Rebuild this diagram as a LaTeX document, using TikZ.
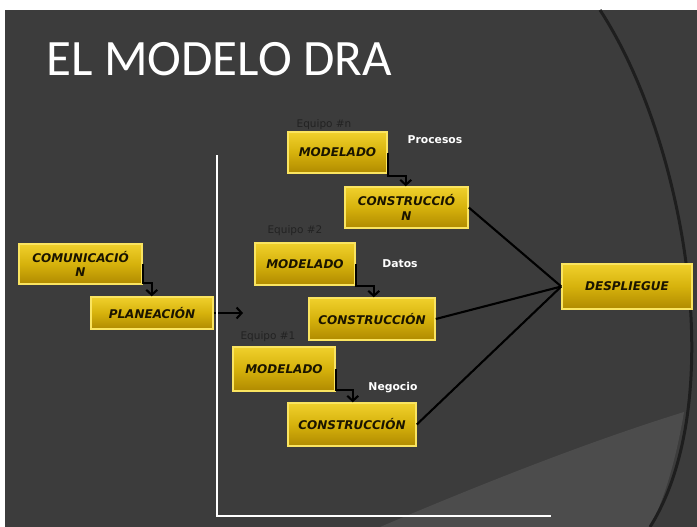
\documentclass[tikz,border=0pt]{standalone}
\usepackage{fontspec}
\setmainfont{DejaVu Sans}
\newfontfamily\titlefont{Carlito}
\definecolor{dra_fondo}{RGB}{60, 60, 60}
\definecolor{dra_claro}{RGB}{76, 76, 76}
\definecolor{dra_arco}{RGB}{30, 30, 30}
\definecolor{dra_oro_alto}{RGB}{240, 208, 44}
\definecolor{dra_oro}{RGB}{214, 178, 12}
\definecolor{dra_oro_bajo}{RGB}{176, 138, 0}
\definecolor{dra_borde}{RGB}{250, 228, 96}
\definecolor{dra_texto}{RGB}{26, 20, 0}
\definecolor{dra_equipo}{RGB}{34, 34, 34}
\usepackage{tikz}
\usetikzlibrary{arrows.meta, calc}

\begin{document}
\begin{tikzpicture}[x=1pt, y=-1pt,
            caja/.style={draw=dra_borde, line width=1.5pt, align=center,
                         top color=dra_oro_alto, bottom color=dra_oro_bajo,
                         middle color=dra_oro, inner sep=0pt, text=dra_texto,
                         font=\fontsize{12}{14.5}\selectfont\bfseries\itshape},
            equipo/.style={text=dra_equipo, font=\fontsize{10.5}{12}\selectfont},
            capa/.style={text=white, font=\fontsize{10.8}{12}\selectfont\bfseries},
            flecha/.style={draw=black, line width=2.1pt,
                           -{Straight Barb[length=5pt, width=11pt]}},
            linea/.style={draw=black, line width=2.1pt}]
            \useasboundingbox (0,0) rectangle (697,527);
            % fondo de la diapositiva
            \fill[white] (0,0) rectangle (697,527);
            \fill[dra_fondo] (5,10) rectangle (697,527);
            \begin{scope}
              \clip (5,10) rectangle (697,527);
              \fill[dra_claro] (380,527) .. controls (500,476) and (600,438) .. (684,412)
                .. controls (676,460) and (664,500) .. (650,527) -- cycle;
              \draw[dra_arco, line width=3pt] (600,10) .. controls (685,140) and (730,400) .. (650,527);
            \end{scope}
            \node[anchor=base west, inner sep=0pt, text=white,
                  font=\titlefont\fontsize{51}{51}\selectfont] (titulo) at (46,76) {EL MODELO DRA};

            % cajas
            \node[caja, minimum width=123, minimum height=40] (comunicacion) at (80.5,264)
              {COMUNICACIÓ\\N};
            \node[caja, minimum width=122, minimum height=32] (planeacion) at (152,313)
              {PLANEACIÓN};
            \node[caja, minimum width=99, minimum height=41] (modeladoN) at (337.5,152.5)
              {MODELADO};
            \node[caja, minimum width=123, minimum height=41] (construccionN) at (406.5,207.5)
              {CONSTRUCCIÓ\\N};
            \node[caja, minimum width=100, minimum height=42] (modelado2) at (305,264)
              {MODELADO};
            \node[caja, minimum width=126, minimum height=42] (construccion2) at (372,319)
              {CONSTRUCCIÓN};
            \node[caja, minimum width=102, minimum height=44] (modelado1) at (284,369)
              {MODELADO};
            \node[caja, minimum width=128, minimum height=43] (construccion1) at (352,424.5)
              {CONSTRUCCIÓN};
            \node[caja, minimum width=130, minimum height=45] (despliegue) at (627,286.5)
              {DESPLIEGUE};

            % textos
            \node[equipo] (equipoN) at (324,125) {Equipo \#n};
            \node[equipo] (equipo2) at (295,231) {Equipo \#2};
            \node[equipo] (equipo1) at (268,337) {Equipo \#1};
            \node[capa] (procesos) at (435,140) {Procesos};
            \node[capa] (datos) at (400,264) {Datos};
            \node[capa] (negocio) at (393,388) {Negocio};

            % flechas en codo
            \coordinate (codoC) at ($(comunicacion.south east)+(9,-2)$);
            \coordinate (codoN) at ($(modeladoN.south east)+(18,2)$);
            \coordinate (codo2) at ($(modelado2.south east)+(18,0)$);
            \coordinate (codo1) at ($(modelado1.south east)+(17,-2)$);
            \draw[flecha] (comunicacion.east) |- (codoC) -- (codoC |- planeacion.north);
            \draw[flecha] (modeladoN.east) |- (codoN) -- (codoN |- construccionN.north);
            \draw[flecha] (modelado2.east) |- (codo2) -- (codo2 |- construccion2.north);
            \draw[flecha] (modelado1.east) |- (codo1) -- (codo1 |- construccion1.north);

            \coordinate (finplan) at (243,313);
            \draw[flecha] (planeacion.east) -- (finplan);

            \draw[linea] (construccionN.east) -- (despliegue.west);
            \draw[linea] (construccion2.east) -- (despliegue.west);
            \draw[linea] (construccion1.east) -- (despliegue.west);

            % ejes
            \draw[white, line width=2.6pt] (217,155) -- (217,516) -- (551,516);
          \end{tikzpicture}
\end{document}
